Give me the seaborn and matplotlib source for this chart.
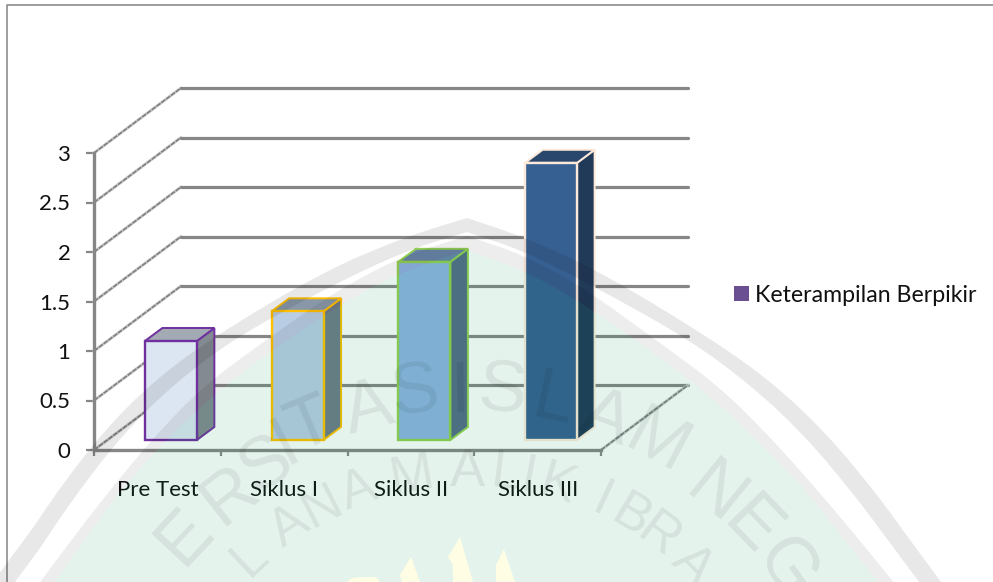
import numpy as np
import pandas as pd
import matplotlib
matplotlib.use("Agg")
import matplotlib.pyplot as plt
from matplotlib.patches import Patch, Polygon
import seaborn as sns

# ---- data ----
categories = ["Pre Test", "Siklus I", "Siklus II", "Siklus III"]
values = [1.0, 1.3, 1.8, 2.8]
series_name = "Keterampilan Berpikir"
y_ticks = [0, 0.5, 1, 1.5, 2, 2.5, 3]
y_labels = ["0", "0.5", "1", "1.5", "2", "2.5", "3"]
fills = ["#dce6f2", "#b9cde5", "#8eb4e3", "#376092"]
edges = ["#7030a0", "#ffc000", "#92d050", "#fde9d9"]

W, H = 993, 582
GRID = "#868686"
FONT = "Lato"
FS = 16.0

sns.set_theme(style="white")
plt.rcParams["font.family"] = [FONT, "DejaVu Sans"]

fig = plt.figure(figsize=(W / 100, H / 100), dpi=100, facecolor="white")

# frame of the chart area
bg = fig.add_axes([0, 0, 1, 1], zorder=0)
bg.set_xlim(0, W); bg.set_ylim(H, 0); bg.axis("off")
bg.plot([7, 7, W], [H, 5, 5], color="#8c8c8c", lw=1.2)

ax = fig.add_axes([94 / W, 1 - 450 / H, (601 - 94) / W, (450 - 153) / H], zorder=1)
ax.patch.set_alpha(0)

df = pd.DataFrame({"Tahap": categories, series_name: values})
sns.barplot(data=df, x="Tahap", y=series_name, hue="Tahap", palette=fills,
            width=0.41, dodge=False, legend=False, ax=ax, zorder=5,
            saturation=1, linewidth=1.7)
ax.set_xlim(-0.5, len(categories) - 0.5)
ax.set_ylim(0, 3)

# depth of the 3D box, in data units
cat_px = (601 - 94) / 4
val_px = 99.0
DX, DY = 87 / cat_px, 65 / val_px           # wall depth
FX, FY = 13.5 / cat_px, 10 / val_px         # front of the bars inside the box
SX, SY = 17.5 / cat_px, 13 / val_px         # depth of a bar

x0, x1 = -0.5, len(categories) - 0.5
for v in y_ticks:
    ax.plot([x0, x0 + DX], [v, v + DY], color="#d0d0d0", lw=2.2, clip_on=False, zorder=1)
    ax.plot([x0, x0 + DX], [v, v + DY], color="#808080", lw=1.2, ls=(0, (3, 0.6)), clip_on=False, zorder=1.1)
    ax.plot([x0 + DX, x1 + DX], [v + DY, v + DY], color=GRID, lw=2.3, clip_on=False, zorder=1)
ax.plot([x1, x1 + DX], [0, DY], color="#d0d0d0", lw=2.2, clip_on=False, zorder=1)
ax.plot([x1, x1 + DX], [0, DY], color="#808080", lw=1.2, ls=(0, (3, 0.6)), clip_on=False, zorder=1.1)


def shade(hex_colour, k):
    return tuple(c * k for c in matplotlib.colors.to_rgb(hex_colour))


for patch, val, fc, ec in zip(ax.patches, values, fills, edges):
    patch.set_x(patch.get_x() + FX)
    patch.set_y(FY)
    patch.set_edgecolor(ec)
    patch.set_clip_on(False)
    l, r = patch.get_x(), patch.get_x() + patch.get_width()
    b, t = FY, FY + val
    ax.fill([r, r + SX, r + SX, r], [b, b + SY, t + SY, t], facecolor=shade(fc, 0.60),
            edgecolor=ec, lw=1.4, clip_on=False, zorder=4)
    ax.fill([l, l + SX, r + SX, r], [t, t + SY, t + SY, t], facecolor=shade(fc, 0.74),
            edgecolor=ec, lw=1.4, clip_on=False, zorder=4)

ax.set_xlabel(""); ax.set_ylabel("")
ax.set_yticks(y_ticks, y_labels)
ax.set_xticks(range(len(categories)), categories)
ax.set_xticks(np.arange(len(categories) + 1) - 0.5, minor=True)
ax.tick_params(axis="x", which="major", length=0, pad=21.5, labelsize=FS, labelcolor="#111111")
ax.tick_params(axis="x", which="minor", length=4.5, width=1.6, color=GRID, bottom=True)
ax.tick_params(axis="y", length=5.5, width=1.6, color=GRID, pad=11.5, labelsize=FS, labelcolor="#111111", left=True)
for side in ("top", "right"):
    ax.spines[side].set_visible(False)
for side in ("left", "bottom"):
    ax.spines[side].set_color(GRID)
    ax.spines[side].set_linewidth(2.4)
    ax.spines[side].set_zorder(3)

fig.legend(handles=[Patch(facecolor="#6a5090", edgecolor="none", label=series_name)],
           loc="center left", bbox_to_anchor=(734 / W, 1 - 295 / H), frameon=False,
           fontsize=16.7, handlelength=0.65, handleheight=0.65, handletextpad=0.27,
           borderpad=0, borderaxespad=0, labelcolor="#111111")

# ---- watermark laid over the chart ----
top = fig.add_axes([0, 0, 1, 1], zorder=10)
top.set_xlim(0, W); top.set_ylim(H, 0); top.axis("off")
CX = 467
outer1 = [(0, 218), (57, 237), (134, 272), (246, 340), (306, 383), (359, 433), (409, 493), (443, 540), (480, 590)]
inner1 = [(0, 232), (57, 251), (130, 288), (223, 340), (286, 387), (339, 437), (389, 497), (426, 547), (458, 590)]
outer2 = [(0, 236), (57, 255), (120, 290), (189, 340), (253, 387), (306, 440), (359, 500), (403, 553), (433, 590)]
green = [(0, 250), (60, 272), (110, 300), (169, 340), (226, 382), (283, 432), (339, 490), (383, 547), (418, 590)]


def smooth(profile, rounds=2):
    pts = np.array(profile, float)
    for _ in range(rounds):
        a, b = pts[:-1], pts[1:]
        mid = np.empty((2 * len(a), 2))
        mid[0::2] = 0.75 * a + 0.25 * b
        mid[1::2] = 0.25 * a + 0.75 * b
        pts = np.vstack([pts[:1], mid, pts[-1:]])
    return pts


def dome(profile):
    pts = smooth(profile)
    right = [(CX + w, y) for w, y in pts]
    left = [(CX - w - 12 * np.sin(np.pi * min(w, 430) / 430), y) for w, y in pts[1:]]
    return left[::-1] + right


def band(a, b):
    return dome(a) + dome(b)[::-1]


top.add_patch(Polygon(band(outer1, inner1), closed=True, fc=(0, 0, 0, 0.09), ec="none"))
top.add_patch(Polygon(band(outer2, green), closed=True, fc=(0, 0, 0, 0.07), ec="none"))
top.add_patch(Polygon(dome(green), closed=True, fc=(0, 0.57, 0.33, 0.10), ec="none"))

YEL = "#fffde3"
for shape in ([(411, 557), (400, 575), (402, 582), (420, 582)],
              [(460, 537), (448, 557), (453, 565), (453, 582), (473, 582)],
              [(504, 549), (496, 565), (496, 582), (515, 582)],
              [(347, 582), (352, 578), (362, 577), (376, 577), (380, 582)]):
    top.add_patch(Polygon(shape, closed=True, fc=YEL, ec="none"))

ring1 = list("ERSITASISLAMNEG")
ring1_deg = [-47, -38, -31, -27, -22.8, -14.2, -7.3, -1, 5, 12.2, 20, 28, 39, 46, 54]
ring1_rad = [385, 385, 390, 400, 405, 402, 410, 407, 409, 407, 405, 404, 393, 393, 393]
ring2 = list("LANAMALIKIBRA")
ring2_deg = [-43, -34, -27, -20, -10, 0, 7, 11, 16.5, 25, 31, 37, 45]
ring2_rad = [318] * len(ring2)
for letters, degs, rads, cy, size in ((ring1, ring1_deg, ring1_rad, 800, 52), (ring2, ring2_deg, ring2_rad, 790, 38)):
    for ch, d, rad in zip(letters, degs, rads):
        a = np.deg2rad(d)
        top.text(CX + rad * np.sin(a), cy - rad * np.cos(a), ch, rotation=-d, rotation_mode="anchor",
                 ha="center", va="center", fontsize=size, color=(0, 0, 0, 0.07),
                 family=["Liberation Sans"], clip_on=True)

fig.savefig("out.png", dpi=100)
